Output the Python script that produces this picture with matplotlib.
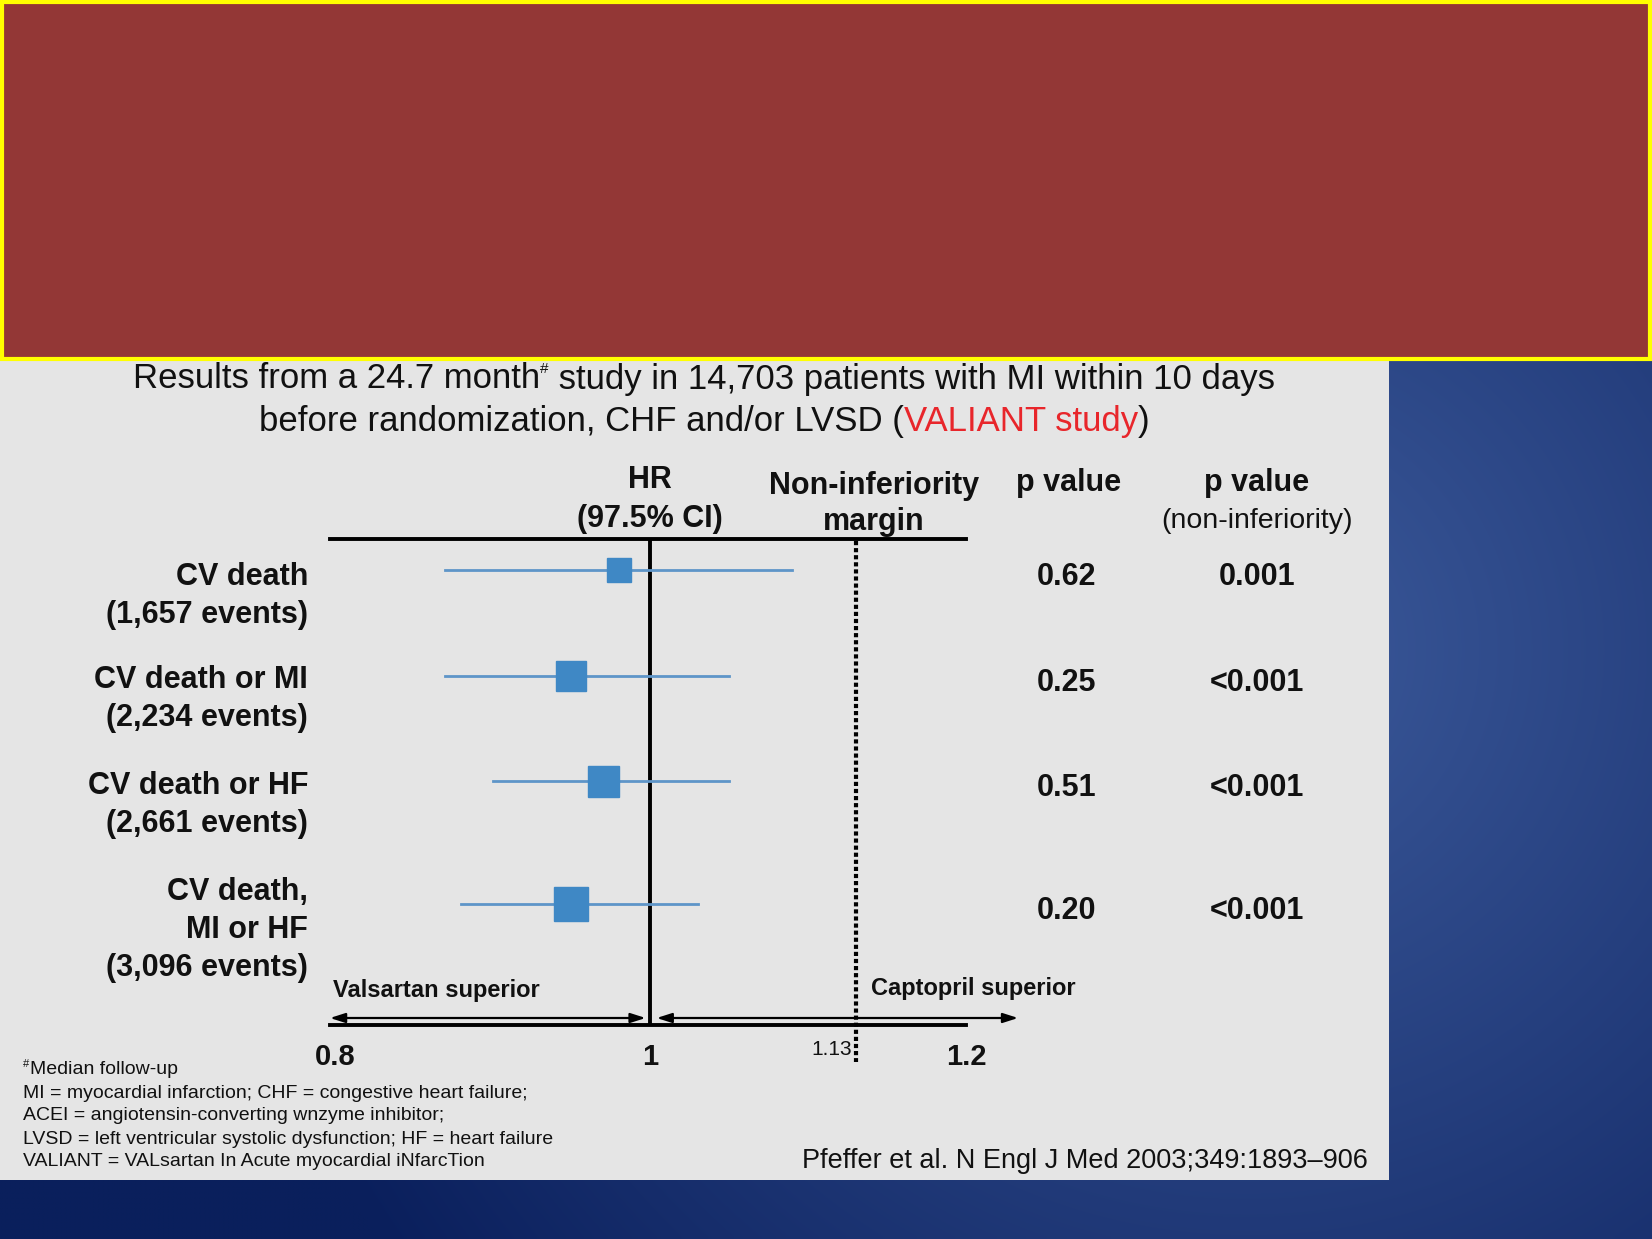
import numpy as np
import matplotlib
matplotlib.use("Agg")
import matplotlib.pyplot as plt
from matplotlib.patches import Rectangle

W, H = 1652, 1239

# ---- data ----
outcomes = ["CV death", "CV death or MI", "CV death or HF", "CV death,\nMI or HF"]
events = ["1,657", "2,234", "2,661", "3,096"]
hr = [0.98, 0.95, 0.97, 0.95]
ci_low = [0.87, 0.87, 0.90, 0.88]
ci_high = [1.09, 1.05, 1.05, 1.03]
p_value = ["0.62", "0.25", "0.51", "0.20"]
p_noninf = ["0.001", "<0.001", "<0.001", "<0.001"]
margin = 1.13
ticks = [0.8, 1.0, 1.2]
tick_labels = ["0.8", "1", "1.2"]

footnotes = [
    "MI = myocardial infarction; CHF = congestive heart failure;",
    "ACEI = angiotensin-converting wnzyme inhibitor;",
    "LVSD = left ventricular systolic dysfunction; HF = heart failure",
    "VALIANT = VALsartan In Acute myocardial iNfarcTion",
]
citation = "Pfeffer et al. N Engl J Med 2003;349:1893\u2013906"

# layout (pixels from top of the slide)
row_y = [570, 676, 781, 904]
label_y = [574, 677, 783, 889]
box_px = [24, 30, 31, 34]

plt.rcParams["font.family"] = ["Liberation Sans", "DejaVu Sans"]
INK = "#111111"

fig = plt.figure(figsize=(W / 100, H / 100), dpi=100)

# background: blue radial gradient, drawn in pixel coords
bg = fig.add_axes([0, 0, 1, 1])
gx, gy = np.meshgrid(np.linspace(0, W, 330), np.linspace(0, H, 248))
d = np.clip(np.hypot(gx - 1250, gy - 650) / 1050, 0, 1)
c0 = np.array([0x3c, 0x5a, 0x9b]) / 255
c1 = np.array([0x0a, 0x1f, 0x5c]) / 255
grad = c0 + (c1 - c0) * d[..., None]
bg.imshow(grad, extent=[0, W, H, 0], aspect="auto", interpolation="bilinear")
bg.set_xlim(0, W)
bg.set_ylim(H, 0)
bg.axis("off")

bg.add_patch(Rectangle((0, 361), 1389, 819, facecolor="#e5e5e5", edgecolor="none"))
bg.add_patch(Rectangle((2, 2), W - 4, 357, facecolor="#933736",
                       edgecolor="#ffff00", lw=3))

rend = fig.canvas.get_renderer()


def runs(xc, y, parts, **kw):
    # put several differently styled pieces on one centred line
    items = []
    for s, props in parts:
        opts = dict(kw)
        opts.update(props)
        dy = opts.pop("dy", 0)
        t = bg.text(0, y + dy, s, ha="left", va="center", **opts)
        items.append(t)
    widths = [t.get_window_extent(rend).width for t in items]
    x = xc - sum(widths) / 2
    for t, w in zip(items, widths):
        t.set_x(x)
        x += w


runs(704, 379, [("Results from a 24.7 month", {}),
                ("#", {"fontsize": 11, "dy": -10}),
                (" study in 14,703 patients with MI within 10 days", {})],
     fontsize=25, color=INK)
runs(704, 421, [("before randomization, CHF and/or LVSD (", {}),
                ("VALIANT study", {"color": "#e8262b"}),
                (")", {})],
     fontsize=25, color=INK)

# column headers
hb = dict(fontsize=22, fontweight="bold", color=INK, ha="center", va="center")
bg.text(650, 480, "HR", **hb)
bg.text(650, 519, "(97.5% CI)", **hb)
bg.text(874, 486, "Non-inferiority", **hb)
bg.text(874, 522, "margin", **hb)
bg.text(1069, 483, "p value", **hb)
bg.text(1257, 483, "p value", **hb)
bg.text(1257, 521, "(non-inferiority)", fontsize=20.5, color=INK,
        ha="center", va="center")

# row labels and p values
for name, ev, ly, py, p1, p2 in zip(outcomes, events, label_y, row_y,
                                    p_value, p_noninf):
    lines = name.split("\n") + ["(" + ev + " events)"]
    for k, line in enumerate(lines):
        bg.text(308, ly + 3 + 38 * k, line, fontsize=22, fontweight="bold",
                color=INK, ha="right", va="center")
    bg.text(1067, py + 7, p1, **hb)
    bg.text(1257, py + 7, p2, **hb)

# footnotes and citation
bg.text(23, 1064, "#", fontsize=8, color=INK, va="center")
bg.text(30, 1070, "Median follow-up", fontsize=14, color=INK, va="center")
for i, line in enumerate(footnotes):
    bg.text(23, 1093 + 23 * i, line, fontsize=14, color=INK, va="center")
bg.text(1368, 1161, citation, fontsize=19.5, color=INK, ha="right", va="center")

# ---- forest plot ----
ax = fig.add_axes([330 / W, 1 - 1025 / H, 636 / W, 486 / H])
ax.set_xlim(0.797, 1.2)
ax.set_ylim(1025, 539)
ax.patch.set_visible(False)
for s in ("left", "right"):
    ax.spines[s].set_visible(False)
for s in ("top", "bottom"):
    ax.spines[s].set_linewidth(2.8)
    ax.spines[s].set_color("black")
ax.set_yticks([])
ax.set_xticks(ticks)
ax.set_xticklabels(tick_labels, fontsize=21, fontweight="bold", color=INK)
ax.tick_params(axis="x", length=0, pad=13)

ax.axvline(1.0, color="black", lw=2.8)
ax.plot([margin, margin], [541, 1062], color="black", lw=3,
        linestyle=(0, (1.0, 0.7)), clip_on=False)
ax.text(margin - 0.002, 1050, f"{margin:.2f}", fontsize=15, color=INK,
        ha="right", va="center")

for y, h, lo, hi, sz in zip(row_y, hr, ci_low, ci_high, box_px):
    ax.plot([lo, hi], [y, y], color="#5e95c8", lw=2.0, zorder=2)
    ax.plot([h], [y], marker="s", markersize=sz * 0.72, color="#3f88c5",
            markeredgecolor="#3f88c5", zorder=3)

arrow = dict(arrowstyle="<|-|>,head_length=0.5,head_width=0.16", color="black",
             lw=1.6, shrinkA=0, shrinkB=0, mutation_scale=18)
ax.annotate("", xy=(0.797, 1018), xytext=(0.997, 1018), arrowprops=arrow,
            annotation_clip=False)
ax.annotate("", xy=(1.004, 1018), xytext=(1.233, 1018), arrowprops=arrow,
            annotation_clip=False)
ax.text(0.799, 991, "Valsartan superior", fontsize=17, fontweight="bold",
        color=INK, va="center", ha="left")
ax.text(1.14, 989, "Captopril superior", fontsize=17, fontweight="bold",
        color=INK, va="center", ha="left", clip_on=False)

fig.savefig("out.png", dpi=100)
